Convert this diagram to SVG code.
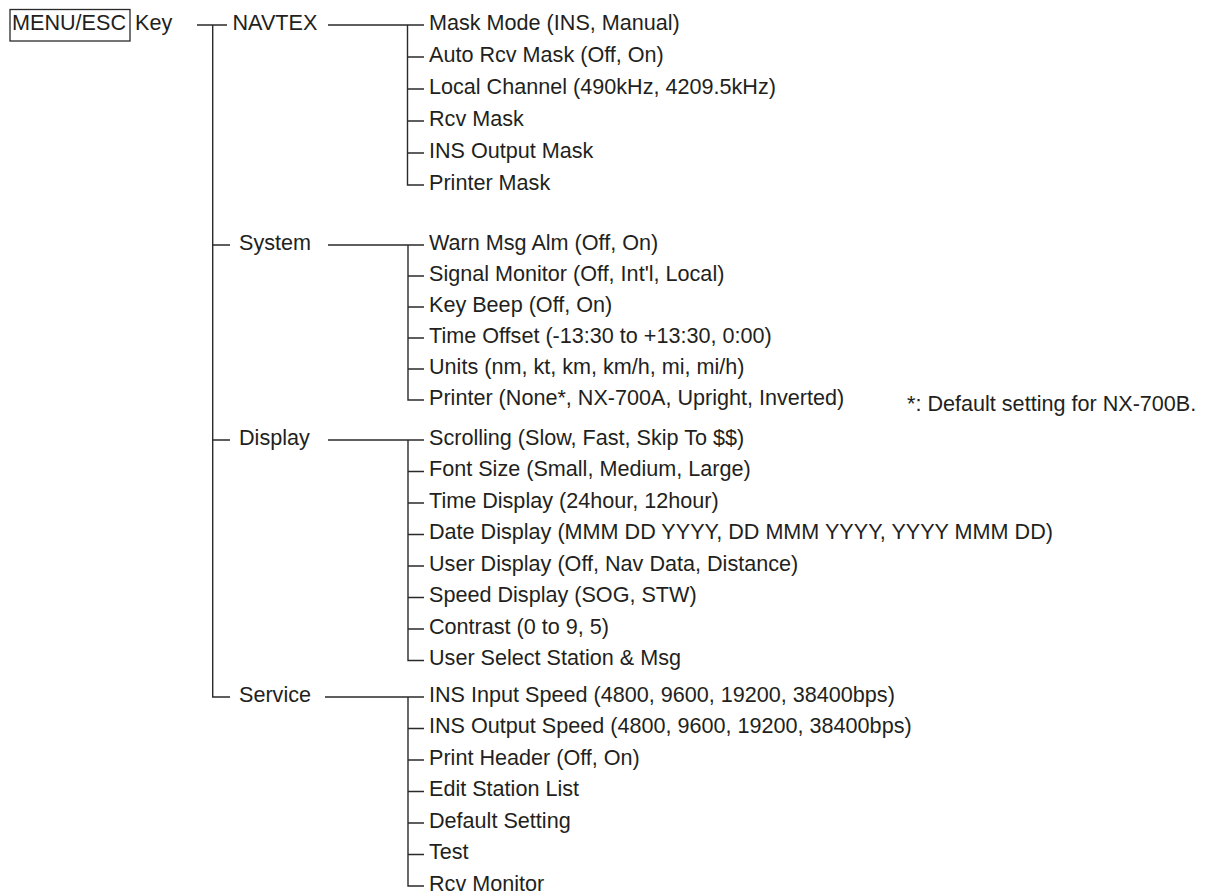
<svg xmlns="http://www.w3.org/2000/svg" width="1210" height="896" viewBox="0 0 1210 896">
<style>
text{font-family:"Liberation Sans",Arial,sans-serif;font-size:21.6px;fill:#231f20}
.ln{fill:none;stroke:#2a2a2a;stroke-width:1.4}
</style>
<rect width="1210" height="896" fill="#ffffff"/>
<g id="root">
<rect x="10" y="9.5" width="120" height="31.5" fill="none" stroke="#2a2a2a" stroke-width="1.3"/>
<text x="12" y="29.5">MENU/ESC</text>
<text x="135" y="29.5">Key</text>
</g>
<g id="connectors" class="ln">
<path d="M197 25H227M212.7 25V697H230M212.7 245H230M212.7 440H230"/>
<path d="M328 25H424M407.5 25V185H424M407.5 57H424M407.5 89H424M407.5 121H424M407.5 153H424"/>
<path d="M328 245H424M408 245V400H424M408 276H424M408 307H424M408 338H424M408 369H424"/>
<path d="M328 440H424M408 440V660.5H424M408 471.5H424M408 503H424M408 534.5H424M408 566H424M408 597.5H424M408 629H424"/>
<path d="M325 697H424M408 697V886H424M408 728.5H424M408 760H424M408 791.5H424M408 823H424M408 854.5H424"/>
</g>
<g id="navtex">
<text x="232.5" y="29.5">NAVTEX</text>
<text x="429" y="29.5">Mask Mode (INS, Manual)</text>
<text x="429" y="61.5">Auto Rcv Mask (Off, On)</text>
<text x="429" y="93.5">Local Channel (490kHz, 4209.5kHz)</text>
<text x="429" y="125.5">Rcv Mask</text>
<text x="429" y="157.5">INS Output Mask</text>
<text x="429" y="189.5">Printer Mask</text>
</g>
<g id="system">
<text x="239" y="249.5">System</text>
<text x="429" y="249.5">Warn Msg Alm (Off, On)</text>
<text x="429" y="280.5">Signal Monitor (Off, Int'l, Local)</text>
<text x="429" y="311.5">Key Beep (Off, On)</text>
<text x="429" y="342.5">Time Offset (-13:30 to +13:30, 0:00)</text>
<text x="429" y="373.5">Units (nm, kt, km, km/h, mi, mi/h)</text>
<text x="429" y="404.5">Printer (None*, NX-700A, Upright, Inverted)</text>
</g>
<g id="note">
<text x="907" y="411">*: Default setting for NX-700B.</text>
</g>
<g id="display">
<text x="239" y="444.5">Display</text>
<text x="429" y="444.5">Scrolling (Slow, Fast, Skip To $$)</text>
<text x="429" y="476">Font Size (Small, Medium, Large)</text>
<text x="429" y="507.5">Time Display (24hour, 12hour)</text>
<text x="429" y="539">Date Display (MMM DD YYYY, DD MMM YYYY, YYYY MMM DD)</text>
<text x="429" y="570.5">User Display (Off, Nav Data, Distance)</text>
<text x="429" y="602">Speed Display (SOG, STW)</text>
<text x="429" y="633.5">Contrast (0 to 9, 5)</text>
<text x="429" y="665">User Select Station &amp; Msg</text>
</g>
<g id="service">
<text x="239" y="701.5">Service</text>
<text x="429" y="701.5">INS Input Speed (4800, 9600, 19200, 38400bps)</text>
<text x="429" y="733">INS Output Speed (4800, 9600, 19200, 38400bps)</text>
<text x="429" y="764.5">Print Header (Off, On)</text>
<text x="429" y="796">Edit Station List</text>
<text x="429" y="827.5">Default Setting</text>
<text x="429" y="859">Test</text>
<text x="429" y="890.5">Rcv Monitor</text>
</g>
</svg>
